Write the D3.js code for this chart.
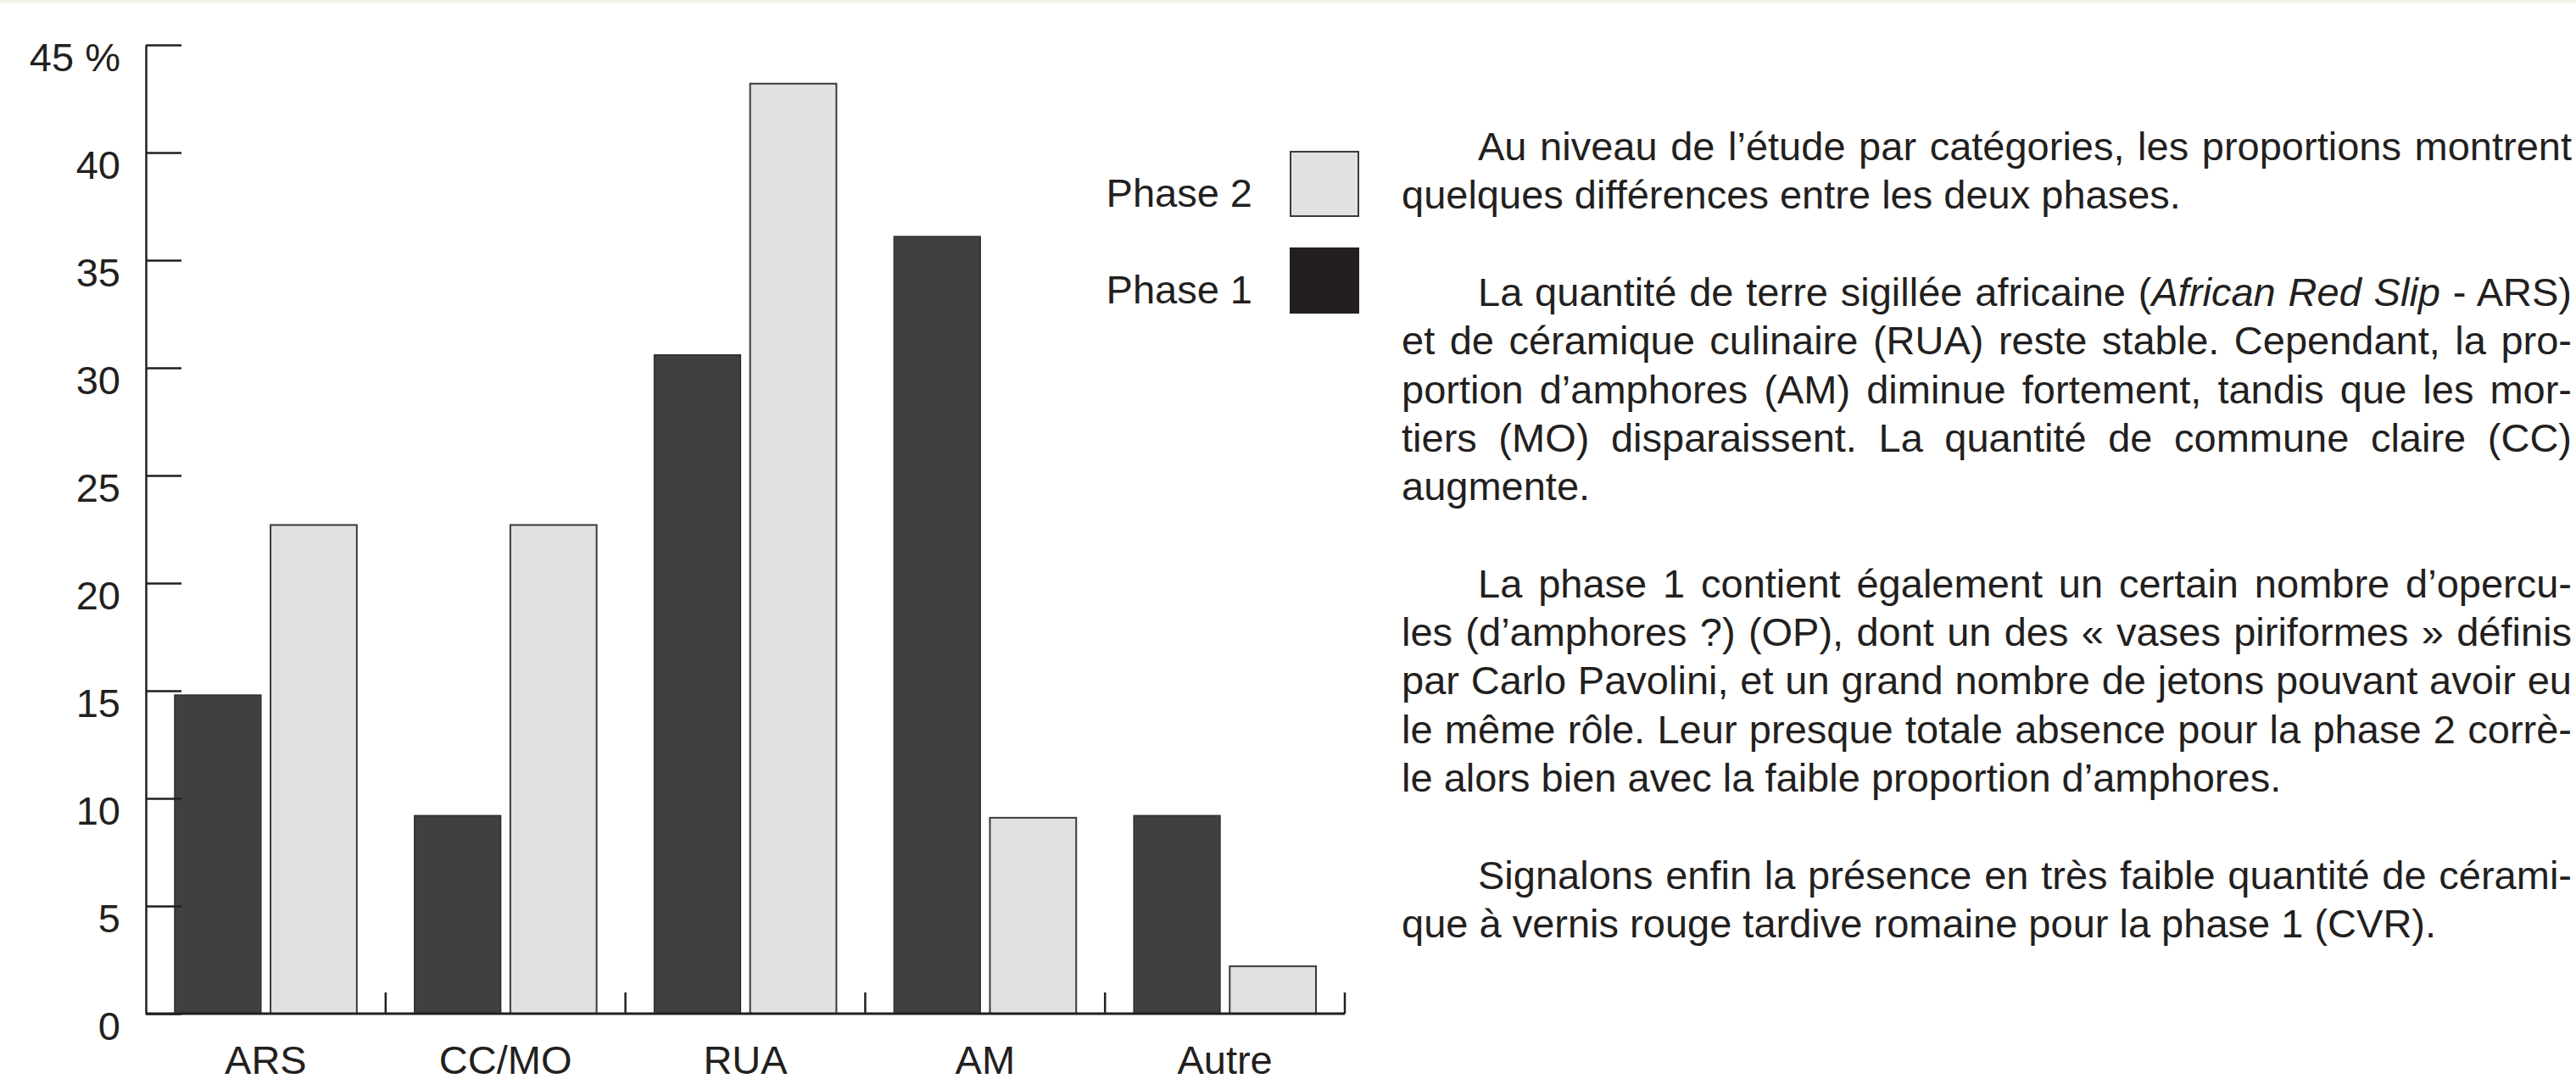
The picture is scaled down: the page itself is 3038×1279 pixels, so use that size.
<!DOCTYPE html>
<html>
<head>
<meta charset="utf-8">
<script src="https://cdn.jsdelivr.net/npm/d3@7"></script>
<style>
  html, body { margin: 0; padding: 0; background: #fff; }
  svg { display: block; font-family: "Liberation Sans", Arial, sans-serif; }
</style>
</head>
<body>
<div id="chart"></div>
<script>
// values (percent)
const categories = ["ARS", "CC/MO", "RUA", "AM", "Autre"];
const phase1 = [14.8, 9.2, 30.6, 36.1, 9.2];
const phase2 = [22.7, 22.7, 43.2, 9.1, 2.2];
const yTicks = [0, 5, 10, 15, 20, 25, 30, 35, 40, 45];
const seriesNames = ["Phase 1", "Phase 2"];

// text block, one entry per printed line: [line index, indent, justify, text] (*...* = italic)
const textLines = [
  [0, true, true, "Au niveau de l’étude par catégories, les proportions montrent"],
  [1, false, false, "quelques différences entre les deux phases."],
  [3, true, true, "La quantité de terre sigillée africaine (*African Red Slip* - ARS)"],
  [4, false, true, "et de céramique culinaire (RUA) reste stable. Cependant, la pro-"],
  [5, false, true, "portion d’amphores (AM) diminue fortement, tandis que les mor-"],
  [6, false, true, "tiers (MO) disparaissent. La quantité de commune claire (CC)"],
  [7, false, false, "augmente."],
  [9, true, true, "La phase 1 contient également un certain nombre d’opercu-"],
  [10, false, true, "les (d’amphores ?) (OP), dont un des « vases piriformes » définis"],
  [11, false, true, "par Carlo Pavolini, et un grand nombre de jetons pouvant avoir eu"],
  [12, false, true, "le même rôle. Leur presque totale absence pour la phase 2 corrè-"],
  [13, false, false, "le alors bien avec la faible proportion d’amphores."],
  [15, true, true, "Signalons enfin la présence en très faible quantité de cérami-"],
  [16, false, false, "que à vernis rouge tardive romaine pour la phase 1 (CVR)."]
];

const W = 3038, H = 1279;
const ink = "#231f20";
const fillP1 = "#404040", fillP2 = "#e0e1e3";
const margin = {left: 172, top: 53, axisBottom: 1196, right: 1586};

const svg = d3.select("#chart").append("svg")
  .attr("width", W)
  .attr("height", H);

svg.append("rect").attr("width", W).attr("height", H).attr("fill", "#fff");
svg.append("rect").attr("width", W).attr("height", 3).attr("fill", "#f6f1e7");

const x0 = d3.scaleBand()
  .domain(categories)
  .range([margin.left, margin.right])
  .paddingInner(0)
  .paddingOuter(0);

const x1 = d3.scaleBand()
  .domain(seriesNames)
  .range([34, x0.bandwidth() - 34])
  .paddingInner(0.1);

const y = d3.scaleLinear()
  .domain([0, 45])
  .range([margin.axisBottom, margin.top]);

const rows = categories.map((c, i) => ({cat: c, values: [phase1[i], phase2[i]]}));

// bars
const groups = svg.append("g").selectAll("g")
  .data(rows)
  .enter().append("g")
  .attr("transform", d => "translate(" + x0(d.cat) + ",0)");

groups.selectAll("rect")
  .data(d => d.values.map((v, k) => ({name: seriesNames[k], value: v})))
  .enter().append("rect")
  .attr("x", d => x1(d.name))
  .attr("width", x1.bandwidth())
  .attr("y", d => y(d.value))
  .attr("height", d => y(0) - y(d.value))
  .attr("fill", d => d.name === "Phase 1" ? fillP1 : fillP2)
  .attr("stroke", d => d.name === "Phase 1" ? "#2e2e2e" : "#3a3a3a")
  .attr("stroke-width", d => d.name === "Phase 1" ? 1.5 : 2);

// y axis, ticks pointing inward
const yAxis = d3.axisLeft(y)
  .tickValues(yTicks)
  .tickSizeInner(-42)
  .tickSizeOuter(0)
  .tickPadding(30)
  .tickFormat(d => d === 45 ? "45 %" : d);

const gy = svg.append("g")
  .attr("transform", "translate(" + margin.left + ",0)")
  .call(yAxis);

gy.select(".domain").attr("stroke", ink).attr("stroke-width", 2.5);
gy.selectAll(".tick line").attr("stroke", ink).attr("stroke-width", 2.5);
gy.selectAll(".tick text")
  .attr("dy", 30)
  .attr("fill", ink)
  .style("font-size", "47px")
  .style("font-family", "'Liberation Sans', Arial, sans-serif");

// x axis line with separators at band ends
svg.append("line")
  .attr("x1", margin.left).attr("x2", margin.right)
  .attr("y1", y(0)).attr("y2", y(0))
  .attr("stroke", ink).attr("stroke-width", 3);

svg.append("g").selectAll("line")
  .data(categories)
  .enter().append("line")
  .attr("x1", d => x0(d) + x0.bandwidth())
  .attr("x2", d => x0(d) + x0.bandwidth())
  .attr("y1", y(0))
  .attr("y2", y(0) - 25)
  .attr("stroke", ink).attr("stroke-width", 2.5);

svg.append("g").selectAll("text")
  .data(categories)
  .enter().append("text")
  .attr("x", d => x0(d) + x0.bandwidth() / 2)
  .attr("y", 1267)
  .attr("text-anchor", "middle")
  .attr("fill", ink)
  .style("font-size", "47px")
  .text(d => d);

// legend
const legend = [
  {name: "Phase 2", fill: fillP2, stroke: "#3a3a3a", y: 179},
  {name: "Phase 1", fill: ink, stroke: ink, y: 293}
];
const lg = svg.append("g").selectAll("g")
  .data(legend)
  .enter().append("g");
lg.append("rect")
  .attr("x", 1522).attr("y", d => d.y)
  .attr("width", 80).attr("height", 76)
  .attr("fill", d => d.fill)
  .attr("stroke", d => d.stroke).attr("stroke-width", 2);
lg.append("text")
  .attr("x", 1477).attr("y", d => d.y + 65)
  .attr("text-anchor", "end")
  .attr("fill", ink)
  .style("font-size", "47px")
  .text(d => d.name);

// justified text block
const textLeft = 1653, textRight = 3033, indent = 90, firstBase = 189, lineStep = 57.3;
const tg = svg.append("g").attr("fill", ink).style("font-size", "47px");

textLines.forEach(([idx, ind, just, str]) => {
  const xStart = textLeft + (ind ? indent : 0);
  const t = tg.append("text")
    .attr("x", xStart)
    .attr("y", firstBase + idx * lineStep);
  str.split("*").forEach((part, k) => {
    t.append("tspan")
      .style("font-style", k % 2 ? "italic" : "normal")
      .text(part);
  });
  if (just) {
    const natural = t.node().getComputedTextLength();
    const spaces = (str.match(/ /g) || []).length;
    const extra = (textRight - xStart - natural) / spaces;
    t.attr("word-spacing", extra);
  }
});
</script>
</body>
</html>
